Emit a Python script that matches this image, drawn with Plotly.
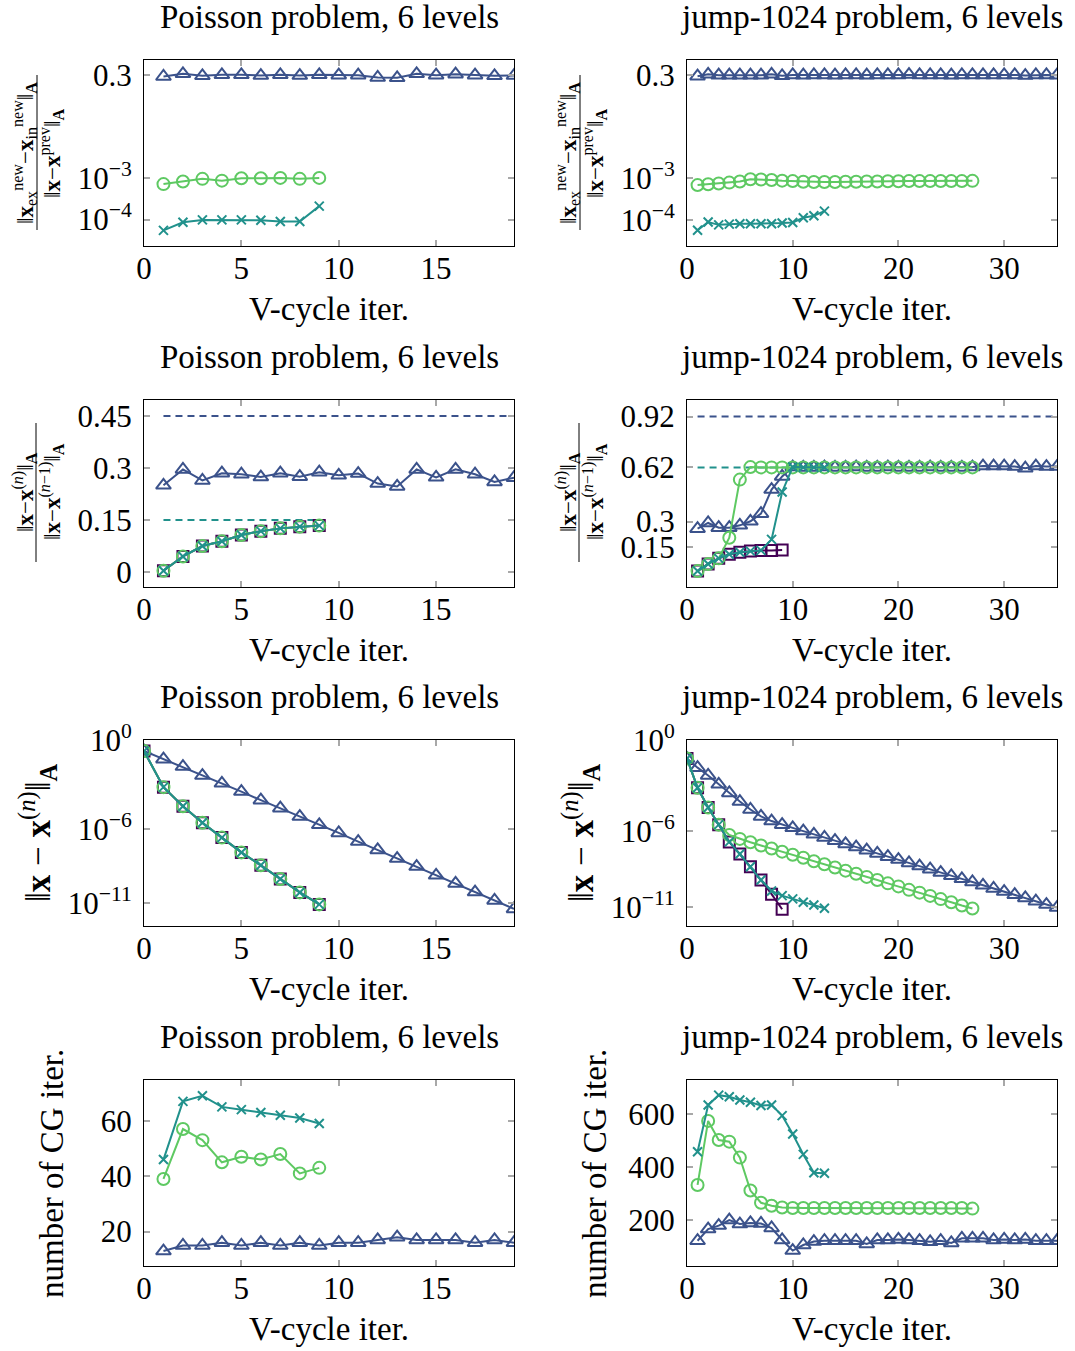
import plotly.graph_objects as go
from plotly.subplots import make_subplots

# ---------------- data ----------------
x_p9 = [1, 2, 3, 4, 5, 6, 7, 8, 9]
x_p19 = list(range(1, 20))
x_p0_9 = list(range(0, 10))
x_p0_19 = list(range(0, 20))
x_j9 = list(range(1, 10))
x_j13 = list(range(1, 14))
x_j27 = list(range(1, 28))
x_j35 = list(range(1, 36))
x_j0_9 = list(range(0, 10))
x_j0_13 = list(range(0, 14))
x_j0_27 = list(range(0, 28))
x_j0_35 = list(range(0, 36))

# Row 1: inexact solve ratio
r1_poi_tri = [0.274, 0.317, 0.284, 0.300, 0.300, 0.289, 0.300, 0.289, 0.300, 0.295,
              0.295, 0.259, 0.255, 0.317, 0.295, 0.311, 0.295, 0.284, 0.289]
r1_poi_circ = [7.1e-4, 8.2e-4, 9.5e-4, 8.6e-4, 9.8e-4, 9.8e-4, 1.0e-3, 9.5e-4, 1.0e-3]
r1_poi_cross = [5.5e-5, 8.6e-5, 9.8e-5, 9.8e-5, 9.8e-5, 9.6e-5, 9.0e-5, 9.0e-5, 2.1e-4]

r1_jmp_tri = [0.28, 0.31, 0.295, 0.295, 0.295, 0.295, 0.295, 0.31, 0.285, 0.30,
              0.295, 0.30, 0.30, 0.295, 0.30, 0.30, 0.295, 0.30, 0.30, 0.30,
              0.305, 0.30, 0.30, 0.30, 0.295, 0.30, 0.30, 0.30, 0.30, 0.30,
              0.30, 0.29, 0.30, 0.30, 0.295]
r1_jmp_circ = [6.9e-4, 7.2e-4, 7.5e-4, 7.9e-4, 8.4e-4, 9.5e-4, 9.4e-4, 9.1e-4, 8.8e-4, 8.6e-4,
               8.3e-4, 8.2e-4, 8.2e-4, 8.2e-4, 8.3e-4, 8.3e-4, 8.4e-4, 8.4e-4, 8.5e-4, 8.5e-4,
               8.6e-4, 8.6e-4, 8.6e-4, 8.6e-4, 8.6e-4, 8.6e-4, 8.7e-4]
r1_jmp_cross = [5.7e-5, 9.0e-5, 7.7e-5, 8.0e-5, 8.2e-5, 8.2e-5, 8.2e-5, 8.2e-5, 8.5e-5, 8.8e-5,
                1.14e-4, 1.27e-4, 1.64e-4]

# Row 2: convergence factor
r2_poi_tri = [0.250, 0.296, 0.264, 0.285, 0.282, 0.274, 0.285, 0.275, 0.288, 0.279,
              0.284, 0.255, 0.247, 0.296, 0.273, 0.296, 0.282, 0.260, 0.272]
r2_poi_sq = [0.004, 0.045, 0.075, 0.089, 0.107, 0.118, 0.126, 0.131, 0.134]
r2_poi_circ = [0.004, 0.045, 0.075, 0.089, 0.107, 0.118, 0.126, 0.131, 0.134]
r2_poi_cross = [0.004, 0.045, 0.075, 0.089, 0.107, 0.118, 0.126, 0.131, 0.134]
r2_poi_bound_tri = 0.45
r2_poi_bound_cross = 0.15

r2_jmp_sq = [0.008, 0.050, 0.083, 0.107, 0.119, 0.126, 0.130, 0.130, 0.132]
r2_jmp_cross = [0.008, 0.050, 0.083, 0.107, 0.119, 0.126, 0.130, 0.195, 0.475, 0.622,
                0.620, 0.620, 0.620]
r2_jmp_circ = [0.008, 0.050, 0.083, 0.205, 0.548, 0.622, 0.620, 0.620, 0.620, 0.620,
               0.620, 0.620, 0.620, 0.620, 0.620, 0.620, 0.620, 0.620, 0.620, 0.620,
               0.620, 0.620, 0.620, 0.620, 0.620, 0.620, 0.620]
r2_jmp_tri = [0.258, 0.292, 0.264, 0.264, 0.278, 0.302, 0.347, 0.489, 0.567, 0.622,
              0.620, 0.620, 0.622, 0.620, 0.620, 0.622, 0.620, 0.620, 0.622, 0.620,
              0.620, 0.620, 0.622, 0.620, 0.620, 0.620, 0.622, 0.628, 0.628, 0.628,
              0.625, 0.615, 0.628, 0.625, 0.625]
r2_jmp_bound_tri = 0.92
r2_jmp_bound_cross = 0.62

# Row 3: A-norm error
r3_poi_sq = [1.8e-1, 6.6e-4, 3.4e-5, 2.6e-6, 2.6e-7, 2.6e-8, 3.5e-9, 4.2e-10, 5.2e-11, 8.1e-12]
r3_poi_circ = [1.8e-1, 6.6e-4, 3.4e-5, 2.6e-6, 2.6e-7, 2.6e-8, 3.5e-9, 4.2e-10, 5.2e-11, 8.1e-12]
r3_poi_cross = [1.8e-1, 6.6e-4, 3.4e-5, 2.6e-6, 2.6e-7, 2.6e-8, 3.5e-9, 4.2e-10, 5.2e-11, 8.1e-12]
r3_poi_tri = [1.8e-1, 5.1e-2, 1.6e-2, 4.0e-3, 1.2e-3, 3.3e-4, 8.7e-5, 2.5e-5, 6.8e-6, 1.9e-6,
              5.4e-7, 1.4e-7, 3.8e-8, 1.0e-8, 2.9e-9, 7.4e-10, 2.1e-10, 5.5e-11, 1.5e-11, 4.0e-12]

r3_jmp_sq = [6.0e-2, 7.1e-4, 3.5e-5, 2.6e-6, 1.9e-7, 3.0e-8, 4.3e-9, 5.8e-10, 6.8e-11, 6.8e-12]
r3_jmp_cross = [6.0e-2, 7.1e-4, 3.5e-5, 2.6e-6, 1.9e-7, 3.0e-8, 4.3e-9, 5.8e-10, 1.1e-10, 5.4e-11,
                3.3e-11, 2.0e-11, 1.3e-11, 7.9e-12]
r3_jmp_circ = [6.0e-2, 7.1e-4, 3.5e-5, 2.6e-6, 5.4e-7, 3.0e-7, 1.8e-7, 1.1e-7, 6.9e-8, 4.3e-8,
               2.7e-8, 1.7e-8, 1.0e-8, 6.3e-9, 3.9e-9, 2.4e-9, 1.5e-9, 9.3e-10, 5.8e-10, 3.5e-10,
               2.2e-10, 1.3e-10, 8.5e-11, 5.2e-11, 3.2e-11, 2.0e-11, 1.2e-11, 7.6e-12]
r3_jmp_tri = [6.0e-2, 1.5e-2, 4.6e-3, 1.2e-3, 3.2e-4, 8.7e-5, 2.6e-5, 9.1e-6, 4.5e-6, 2.6e-6,
              1.6e-6, 9.8e-7, 6.0e-7, 3.7e-7, 2.3e-7, 1.4e-7, 8.7e-8, 5.4e-8, 3.3e-8, 2.0e-8,
              1.3e-8, 7.8e-9, 4.8e-9, 3.0e-9, 1.8e-9, 1.1e-9, 6.9e-10, 4.3e-10, 2.6e-10, 1.6e-10,
              1.0e-10, 6.2e-11, 3.8e-11, 2.3e-11, 1.4e-11, 8.9e-12]

# Row 4: CG iterations
r4_poi_cross = [46, 67, 69, 65, 64, 63, 62, 61, 59]
r4_poi_circ = [39, 57, 53, 45, 47, 46, 48, 41, 43]
r4_poi_tri = [13, 15, 15, 16, 15, 16, 15, 16, 15, 16, 16, 17, 18, 17, 17, 17, 16, 17, 16]

r4_jmp_cross = [458, 634, 671, 665, 653, 644, 632, 634, 594, 525, 448, 379, 377]
r4_jmp_circ = [333, 574, 502, 496, 436, 312, 266, 255, 248, 246, 246, 246, 246, 246, 246, 246,
               246, 246, 246, 246, 246, 246, 246, 246, 246, 246, 244]
r4_jmp_tri = [123, 167, 180, 201, 186, 190, 188, 171, 126, 86, 107, 120, 123, 123, 123, 123,
              111, 126, 126, 128, 126, 123, 119, 123, 115, 132, 132, 132, 126, 128, 126, 128,
              123, 123, 123]

titles = ["Poisson problem, 6 levels", "jump-1024 problem, 6 levels"]
xlabel = "V-cycle iter."

# ---------------- style ----------------
W, H = 1075, 1351
C_SQ = "#440154"
C_TRI = "#3b528b"
C_CROSS = "#21918c"
C_CIRC = "#5ec962"
FONT = "Liberation Serif"
TICK_SIZE = 31
TEXT_SIZE = 33

col_x = [(144, 514), (687, 1057)]
row_y = [(60, 246), (400, 587), (740, 926), (1080, 1266)]

fig = make_subplots(rows=4, cols=2)


def px_x(p):
    return p / W


def px_y(p):
    return 1 - p / H


def add_series(row, col, x, y, kind):
    if kind == "sq":
        sym, color, size = "square-open", C_SQ, 11
    elif kind == "tri":
        sym, color, size = "triangle-up-open", C_TRI, 13
    elif kind == "cross":
        sym, color, size = "x-thin-open", C_CROSS, 9
    else:
        sym, color, size = "circle-open", C_CIRC, 12
    fig.add_trace(go.Scatter(
        x=x, y=y, mode="lines+markers",
        line=dict(color=color, width=2),
        marker=dict(symbol=sym, size=size, color=color,
                    line=dict(color=color, width=2)),
        showlegend=False, hoverinfo="skip"), row=row, col=col)


def add_bound(row, col, x, level, color):
    fig.add_trace(go.Scatter(
        x=[x[0], x[-1]], y=[level, level], mode="lines",
        line=dict(color=color, width=2, dash="7px,5px"),
        showlegend=False, hoverinfo="skip"), row=row, col=col)


# Row 1
add_series(1, 1, x_p19, r1_poi_tri, "tri")
add_series(1, 1, x_p9, r1_poi_circ, "circ")
add_series(1, 1, x_p9, r1_poi_cross, "cross")
add_series(1, 2, x_j35, r1_jmp_tri, "tri")
add_series(1, 2, x_j27, r1_jmp_circ, "circ")
add_series(1, 2, x_j13, r1_jmp_cross, "cross")

# Row 2
add_bound(2, 1, x_p19, r2_poi_bound_tri, C_TRI)
add_bound(2, 1, x_p9, r2_poi_bound_cross, C_CROSS)
add_series(2, 1, x_p9, r2_poi_sq, "sq")
add_series(2, 1, x_p19, r2_poi_tri, "tri")
add_series(2, 1, x_p9, r2_poi_circ, "circ")
add_series(2, 1, x_p9, r2_poi_cross, "cross")
add_bound(2, 2, x_j35, r2_jmp_bound_tri, C_TRI)
add_bound(2, 2, x_j13, r2_jmp_bound_cross, C_CROSS)
add_series(2, 2, x_j9, r2_jmp_sq, "sq")
add_series(2, 2, x_j35, r2_jmp_tri, "tri")
add_series(2, 2, x_j27, r2_jmp_circ, "circ")
add_series(2, 2, x_j13, r2_jmp_cross, "cross")

# Row 3
add_series(3, 1, x_p0_9, r3_poi_sq, "sq")
add_series(3, 1, x_p0_19, r3_poi_tri, "tri")
add_series(3, 1, x_p0_9, r3_poi_circ, "circ")
add_series(3, 1, x_p0_9, r3_poi_cross, "cross")
add_series(3, 2, x_j0_9, r3_jmp_sq, "sq")
add_series(3, 2, x_j0_35, r3_jmp_tri, "tri")
add_series(3, 2, x_j0_27, r3_jmp_circ, "circ")
add_series(3, 2, x_j0_13, r3_jmp_cross, "cross")

# Row 4
add_series(4, 1, x_p19, r4_poi_tri, "tri")
add_series(4, 1, x_p9, r4_poi_circ, "circ")
add_series(4, 1, x_p9, r4_poi_cross, "cross")
add_series(4, 2, x_j35, r4_jmp_tri, "tri")
add_series(4, 2, x_j27, r4_jmp_circ, "circ")
add_series(4, 2, x_j13, r4_jmp_cross, "cross")

axis_common = dict(showline=True, linecolor="black", linewidth=1, mirror="ticks",
                   ticks="inside", ticklen=6, tickwidth=1.5, tickcolor="#a8a8a8",
                   showgrid=False, zeroline=False, automargin=False,
                   tickfont=dict(family=FONT, size=TICK_SIZE, color="black"))

y_specs = {
    (1, 1): dict(type="log", range=[-4.636, -0.166], tickvals=[1e-4, 1e-3, 0.3],
                 ticktext=["10<sup>−4</sup>", "10<sup>−3</sup>", "0.3"]),
    (1, 2): dict(type="log", range=[-4.62, -0.166], tickvals=[1e-4, 1e-3, 0.3],
                 ticktext=["10<sup>−4</sup>", "10<sup>−3</sup>", "0.3"]),
    (2, 1): dict(range=[-0.043, 0.496], tickvals=[0, 0.15, 0.3, 0.45],
                 ticktext=["0", "0.15", "0.3", "0.45"]),
    (2, 2): dict(range=[-0.086, 1.018], tickvals=[0.15, 0.3, 0.62, 0.92],
                 ticktext=["0.15", "0.3", "0.62", "0.92"]),
    (3, 1): dict(type="log", range=[-12.55, 0], tickvals=[1e-11, 1e-6, 1],
                 ticktext=["10<sup>−11</sup>", "10<sup>−6</sup>", "10<sup>0</sup>"]),
    (3, 2): dict(type="log", range=[-12.27, 0], tickvals=[1e-11, 1e-6, 1],
                 ticktext=["10<sup>−11</sup>", "10<sup>−6</sup>", "10<sup>0</sup>"]),
    (4, 1): dict(range=[7.6, 74.7], tickvals=[20, 40, 60], ticktext=["20", "40", "60"]),
    (4, 2): dict(range=[28, 728], tickvals=[200, 400, 600], ticktext=["200", "400", "600"]),
}

for r in range(1, 5):
    for c in range(1, 3):
        x0, x1 = col_x[c - 1]
        yt, yb = row_y[r - 1]
        xr = [0, 19] if c == 1 else [0, 35]
        xtv = [0, 5, 10, 15] if c == 1 else [0, 10, 20, 30]
        fig.update_xaxes(row=r, col=c, domain=[px_x(x0), px_x(x1)], range=xr,
                         tickvals=xtv, ticktext=[str(v) for v in xtv],
                         ticklabelstandoff=-5, **axis_common)
        fig.update_yaxes(row=r, col=c, domain=[px_y(yb), px_y(yt)],
                         ticklabelstandoff=5, **axis_common, **y_specs[(r, c)])

annotations = []
shapes = []
for r in range(4):
    yt, yb = row_y[r]
    for c in range(2):
        x0, x1 = col_x[c]
        xc = (x0 + x1) / 2
        annotations.append(dict(text=titles[c], x=px_x(xc), y=px_y(yt - 43),
                                xref="paper", yref="paper", showarrow=False,
                                xanchor="center", yanchor="middle",
                                font=dict(family=FONT, size=TEXT_SIZE, color="black")))
        annotations.append(dict(text=xlabel, x=px_x(xc), y=px_y(yb + 63),
                                xref="paper", yref="paper", showarrow=False,
                                xanchor="center", yanchor="middle",
                                font=dict(family=FONT, size=TEXT_SIZE, color="black")))

# y-axis labels
FR = 23
num1 = "‖<b>x</b><sub>ex</sub><sup>new</sup>−<b>x</b><sub>in</sub><sup>new</sup>‖<sub><b>A</b></sub>"
den1 = "‖<b>x</b>−<b>x</b><sup>prev</sup>‖<sub><b>A</b></sub>"
num2 = "‖<b>x</b>−<b>x</b><sup>(<i>n</i>)</sup>‖<sub><b>A</b></sub>"
den2 = "‖<b>x</b>−<b>x</b><sup>(<i>n</i>−1)</sup>‖<sub><b>A</b></sub>"
lab3 = "‖<b>x</b> − <b>x</b><sup>(<i>n</i>)</sup>‖<sub><b>A</b></sub>"
lab4 = "number of CG iter."

for c in range(2):
    off = 0 if c == 0 else 543
    # row 1 fraction
    for txt, xx in [(num1, 24), (den1, 51)]:
        annotations.append(dict(text=txt, x=px_x(xx + off), y=px_y(153), xref="paper",
                                yref="paper", showarrow=False, textangle=-90,
                                xanchor="center", yanchor="middle",
                                font=dict(family=FONT, size=FR, color="black")))
    shapes.append(dict(type="line", xref="paper", yref="paper",
                       x0=px_x(37 + off), x1=px_x(37 + off), y0=px_y(75), y1=px_y(230),
                       line=dict(color="black", width=1)))
    # row 2 fraction
    for txt, xx in [(num2, 24), (den2, 51)]:
        annotations.append(dict(text=txt, x=px_x(xx + off), y=px_y(492), xref="paper",
                                yref="paper", showarrow=False, textangle=-90,
                                xanchor="center", yanchor="middle",
                                font=dict(family=FONT, size=FR, color="black")))
    shapes.append(dict(type="line", xref="paper", yref="paper",
                       x0=px_x(36 + off), x1=px_x(36 + off), y0=px_y(423), y1=px_y(562),
                       line=dict(color="black", width=1)))
    # row 3
    annotations.append(dict(text=lab3, x=px_x(37 + off), y=px_y(833), xref="paper",
                            yref="paper", showarrow=False, textangle=-90,
                            xanchor="center", yanchor="middle",
                            font=dict(family=FONT, size=35, color="black")))
    # row 4
    annotations.append(dict(text=lab4, x=px_x(52 + off), y=px_y(1174), xref="paper",
                            yref="paper", showarrow=False, textangle=-90,
                            xanchor="center", yanchor="middle",
                            font=dict(family=FONT, size=TEXT_SIZE, color="black")))

fig.update_layout(width=W, height=H, margin=dict(l=0, r=0, t=0, b=0, pad=0),
                  paper_bgcolor="white", plot_bgcolor="white",
                  annotations=annotations, shapes=shapes, showlegend=False)

fig.write_html(
    "out.html",
    config={"displayModeBar": False},
    post_script=("document.documentElement.style.margin='0';"
                 "document.documentElement.style.padding='0';"
                 "document.body.style.margin='0';document.body.style.padding='0';"
                 "document.documentElement.style.overflow='hidden';"
                 "document.body.style.overflow='hidden';"),
)
